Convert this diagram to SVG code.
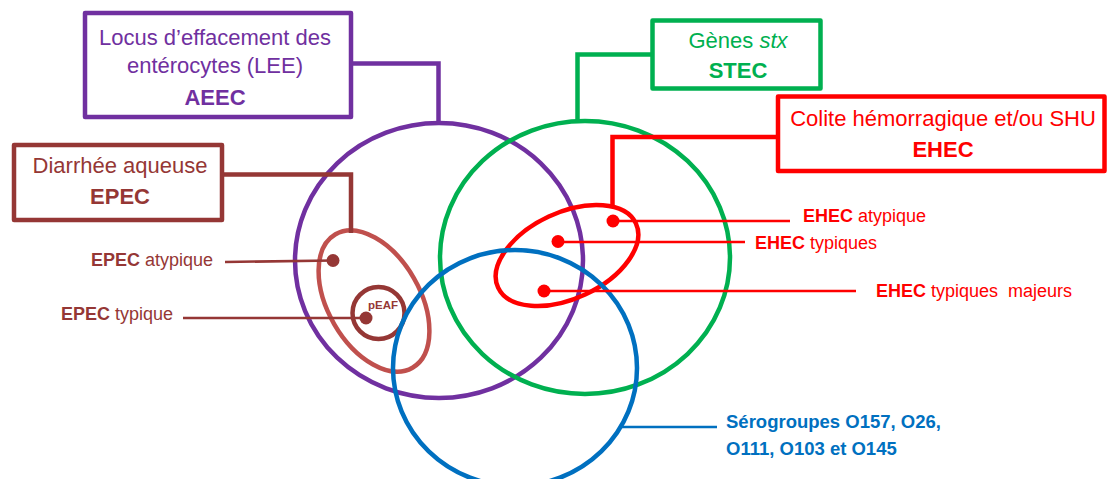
<svg xmlns="http://www.w3.org/2000/svg" width="1107" height="479" viewBox="0 0 1107 479">
  <style>
    text { font-family: "Liberation Sans", Arial, sans-serif; }
    .box { fill: #ffffff; stroke-width: 4.5; stroke-linejoin: round; }
    .ring { fill: none; stroke-width: 4.5; }
    .link { fill: none; stroke-width: 4.5; stroke-linejoin: miter; }
    .lead { fill: none; stroke-width: 2.6; }
    .t22 { font-size: 22px; text-anchor: middle; }
    .t18 { font-size: 18px; }
    .b { font-weight: bold; }
    .purple { stroke: #7030A0; fill: #7030A0; }
    .green { stroke: #00B050; fill: #00B050; }
    .red { stroke: #FF0000; fill: #FF0000; }
    .brown { stroke: #953735; fill: #953735; }
    .blue { stroke: #0070C0; fill: #0070C0; }
  </style>

  <!-- main sets -->
  <g id="set-aeec">
    <ellipse class="ring" cx="439" cy="260.5" rx="144" ry="137.5" stroke="#7030A0"/>
  </g>
  <g id="set-stec">
    <ellipse class="ring" cx="585" cy="257.5" rx="145" ry="136.5" stroke="#00B050"/>
  </g>
  <g id="set-epec">
    <ellipse class="ring" cx="0" cy="0" rx="46" ry="77" stroke="#C0504D" transform="translate(374 301) rotate(-30)"/>
  </g>
  <g id="set-peaf">
    <circle class="ring" cx="378.5" cy="313" r="26" stroke="#953735" stroke-width="4"/>
    <text x="368" y="309" font-size="11.5" font-weight="bold" fill="#953735">pEAF</text>
  </g>
  <g id="set-ehec">
    <ellipse class="ring" cx="0" cy="0" rx="76" ry="43" stroke="#FF0000" transform="translate(567 255.5) rotate(-25)"/>
  </g>
  <g id="set-serogroups">
    <ellipse class="ring" cx="515" cy="368" rx="122" ry="118" stroke="#0070C0"/>
  </g>

  <!-- connectors: box-to-set elbows and label leader lines -->
  <g id="connectors">
    <path class="link" d="M351 63.5 H438.5 V123" stroke="#7030A0"/>
    <path class="link" d="M652 54.5 H577.5 V122" stroke="#00B050"/>
    <path class="link" d="M778 137 H612.5 V206" stroke="#FF0000"/>
    <path class="link" d="M222 174.5 H351 V233" stroke="#953735"/>

    <path class="lead" d="M225 262 L333 260.5" stroke="#953735"/>
    <path class="lead" d="M183 318 L366 318" stroke="#953735"/>
    <path class="lead" d="M613 221 H790" stroke="#FF0000"/>
    <path class="lead" d="M558 242 H745" stroke="#FF0000"/>
    <path class="lead" d="M544 291 H856" stroke="#FF0000"/>
    <path class="lead" d="M622 427 H717" stroke="#0070C0"/>

    <circle cx="333" cy="260.5" r="6.5" fill="#953735"/>
    <circle cx="366" cy="318" r="6.5" fill="#953735"/>
    <circle cx="613" cy="221" r="6.5" fill="#FF0000"/>
    <circle cx="558" cy="241.5" r="6.5" fill="#FF0000"/>
    <circle cx="544" cy="291" r="6.5" fill="#FF0000"/>
  </g>

  <!-- boxes -->
  <g id="box-aeec">
    <rect class="box" x="85" y="13" width="266" height="104" stroke="#7030A0"/>
    <text class="t22" x="215" y="45" fill="#7030A0">Locus d’effacement des</text>
    <text class="t22" x="215" y="73" fill="#7030A0">entérocytes (LEE)</text>
    <text class="t22 b" x="215" y="105" fill="#7030A0">AEEC</text>
  </g>
  <g id="box-epec">
    <rect class="box" x="14" y="145" width="208" height="75" stroke="#953735"/>
    <text class="t22" x="120" y="173" fill="#953735">Diarrhée aqueuse</text>
    <text class="t22 b" x="120" y="204" fill="#953735">EPEC</text>
  </g>
  <g id="box-stec">
    <rect class="box" x="652.5" y="20.5" width="168" height="68" stroke="#00B050"/>
    <text class="t22" x="738" y="48" fill="#00B050">Gènes <tspan font-style="italic">stx</tspan></text>
    <text class="t22 b" x="738" y="78" fill="#00B050">STEC</text>
  </g>
  <g id="box-ehec">
    <rect class="box" x="778" y="96.5" width="326.5" height="74.5" stroke="#FF0000"/>
    <text class="t22" x="943" y="126" fill="#FF0000">Colite hémorragique et/ou SHU</text>
    <text class="t22 b" x="943" y="157" fill="#FF0000">EHEC</text>
  </g>

  <!-- labels -->
  <g id="label-epec-atypique">
    <text class="t18" x="213" y="266" text-anchor="end" fill="#953735"><tspan class="b">EPEC</tspan> atypique</text>
  </g>
  <g id="label-epec-typique">
    <text class="t18" x="173" y="320" text-anchor="end" fill="#953735"><tspan class="b">EPEC</tspan> typique</text>
  </g>
  <g id="label-ehec-atypique">
    <text class="t18" x="803" y="222" fill="#FF0000"><tspan class="b">EHEC</tspan> atypique</text>
  </g>
  <g id="label-ehec-typiques">
    <text class="t18" x="755" y="249" fill="#FF0000"><tspan class="b">EHEC</tspan> typiques</text>
  </g>
  <g id="label-ehec-majeurs">
    <text class="t18" x="876" y="297" fill="#FF0000"><tspan class="b">EHEC</tspan> typiques&#160; majeurs</text>
  </g>
  <g id="label-serogroups">
    <text x="726" y="428" font-size="18.5" font-weight="bold" fill="#0070C0">Sérogroupes O157, O26,</text>
    <text x="726" y="455" font-size="18.5" font-weight="bold" fill="#0070C0">O111, O103 et O145</text>
  </g>
</svg>
